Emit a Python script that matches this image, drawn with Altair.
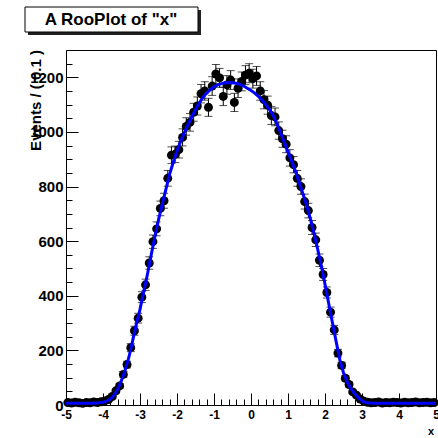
import altair as alt
import pandas as pd
import numpy as np

# ---- data ---------------------------------------------------------------
bin_centers = [round(-4.95 + 0.1 * i, 2) for i in range(100)]
counts = [9, 7, 10, 8, 6, 9, 8, 11, 9, 12,
          15, 20, 31, 52, 70, 112, 148, 210, 272, 318,
          395, 440, 520, 598, 645, 720, 748, 830, 915, 918,
          935, 980, 1020, 1035, 1072, 1095, 1140, 1150, 1090, 1168,
          1212, 1198, 1130, 1172, 1190, 1108, 1160, 1185, 1208, 1215,
          1195, 1205, 1150, 1118, 1098, 1060, 1055, 1005, 975, 955,
          905, 880, 830, 800, 745, 712, 650, 605, 530, 478,
          412, 340, 275, 190, 145, 98, 75, 48, 36, 22,
          14, 10, 8, 9, 11, 7, 9, 8, 10, 9,
          7, 10, 8, 9, 11, 8, 9, 10, 8, 9]

curve_x = [round(-5.0 + 0.1 * i, 2) for i in range(101)]
curve_y = [6, 6, 6, 6, 6, 6, 6, 6,
           7, 8, 10, 14, 22, 36, 58, 90, 128, 175,
           235, 295, 350, 415, 478, 548, 615, 678, 735, 790,
           845, 890, 930, 966, 998, 1028, 1055, 1082, 1106, 1126,
           1142, 1155, 1165, 1172, 1177, 1180, 1181, 1180, 1178, 1174,
           1168, 1160, 1152, 1142, 1130, 1116, 1100, 1082, 1060, 1030,
           997, 962, 926, 893, 857, 816, 775, 732, 684, 630,
           572, 510, 442, 372, 302, 233, 166, 118, 84, 60,
           42, 27, 15, 9, 7,
           6, 6, 6, 6, 6, 6, 6, 6, 6, 6, 6, 6, 6, 6, 6, 6, 6, 6]

x_major_ticks = [-5, -4, -3, -2, -1, 0, 1, 2, 3, 4, 5]
x_minor_ticks = [round(-5 + 0.2 * i, 1) for i in range(51)]
y_major_ticks = [0, 200, 400, 600, 800, 1000, 1200]
y_minor_ticks = [50 * i for i in range(27)]

title_text = 'A RooPlot of "x"'
y_title = "Events / ( 0.1 )"
x_title = "x"

df = pd.DataFrame({"x": bin_centers, "n": counts})
df["lo"] = df["n"] - np.sqrt(df["n"])
df["hi"] = df["n"] + np.sqrt(df["n"])
cdf = pd.DataFrame({"x": curve_x, "y": curve_y})
one = pd.DataFrame({"a": [0]})

FONT = "Liberation Sans"
xs = alt.Scale(domain=[-5, 5], nice=False, zero=False)
ys = alt.Scale(domain=[0, 1300], nice=False, zero=False)

common = dict(domain=False, grid=False, title=None, tickColor="black", tickWidth=1,
              labelOverlap=False, labelBound=False, labelFlush=False)

x_major = alt.Axis(values=x_major_ticks, orient="bottom", offset=-12, tickSize=12,
                   labelFont=FONT, labelFontSize=12, labelFontWeight="bold",
                   labelColor="black", labelPadding=4,
                   labelExpr="'' + datum.value", **common)
y_major = alt.Axis(values=y_major_ticks, orient="left", offset=-12, tickSize=12,
                   labelFont=FONT, labelFontSize=15, labelFontWeight="bold",
                   labelColor="black", labelPadding=3,
                   labelExpr="'' + datum.value", **common)
x_minor = alt.Axis(values=x_minor_ticks, orient="bottom", offset=-6, tickSize=6,
                   labels=False, **common)
y_minor = alt.Axis(values=y_minor_ticks, orient="left", offset=-6, tickSize=6,
                   labels=False, **common)

err = alt.Chart(df).mark_rule(color="black", strokeWidth=1).encode(
    x=alt.X("x:Q", scale=xs, axis=x_major),
    y=alt.Y("lo:Q", scale=ys, axis=y_major),
    y2="hi:Q",
)
cap_hi = alt.Chart(df).mark_tick(orient="horizontal", size=8, thickness=1, color="black").encode(
    x=alt.X("x:Q", scale=xs, axis=x_minor),
    y=alt.Y("hi:Q", scale=ys, axis=y_minor),
)
cap_lo = alt.Chart(df).mark_tick(orient="horizontal", size=8, thickness=1, color="black").encode(
    x=alt.X("x:Q", scale=xs, axis=None),
    y=alt.Y("lo:Q", scale=ys, axis=None),
)
pts = alt.Chart(df).mark_circle(size=80, color="black", opacity=1).encode(
    x=alt.X("x:Q", scale=xs, axis=None),
    y=alt.Y("n:Q", scale=ys, axis=None),
)
curve = alt.Chart(cdf).mark_line(color="#0000ff", strokeWidth=3, clip=True).encode(
    x=alt.X("x:Q", scale=xs, axis=None),
    y=alt.Y("y:Q", scale=ys, axis=None),
)

shadow = alt.Chart(one).mark_rect(fill="#222222").encode(
    x=alt.value(-38), x2=alt.value(135), y=alt.value(-40), y2=alt.value(-15))
box = alt.Chart(one).mark_rect(fill="white", stroke="black", strokeWidth=1).encode(
    x=alt.value(-41), x2=alt.value(132), y=alt.value(-43), y2=alt.value(-18))
ttext = alt.Chart(one).mark_text(font=FONT, fontSize=17, fontWeight="bold", color="black",
                                 align="center", baseline="middle").encode(
    x=alt.value(45), y=alt.value(-30), text=alt.value(title_text))
ytext = alt.Chart(one).mark_text(font=FONT, fontSize=15, fontWeight="bold", color="black",
                                 angle=270, align="right", baseline="middle").encode(
    x=alt.value(-30), y=alt.value(0), text=alt.value(y_title))
xtext = alt.Chart(one).mark_text(font=FONT, fontSize=11, fontWeight="bold", color="black",
                                 align="right", baseline="middle").encode(
    x=alt.value(368), y=alt.value(27 + 355), text=alt.value(x_title))

chart = alt.layer(err, cap_hi, cap_lo, pts, curve, shadow, box, ttext, ytext, xtext).resolve_axis(
    x="independent", y="independent"
).properties(
    width=370, height=355,
    autosize=alt.AutoSizeParams(type="none"),
    padding={"left": 66, "top": 50, "right": 2, "bottom": 33},
    background="white",
).configure_view(stroke="black", strokeWidth=1)

chart.save("out.html", embed_options={"renderer": "svg", "actions": False})
